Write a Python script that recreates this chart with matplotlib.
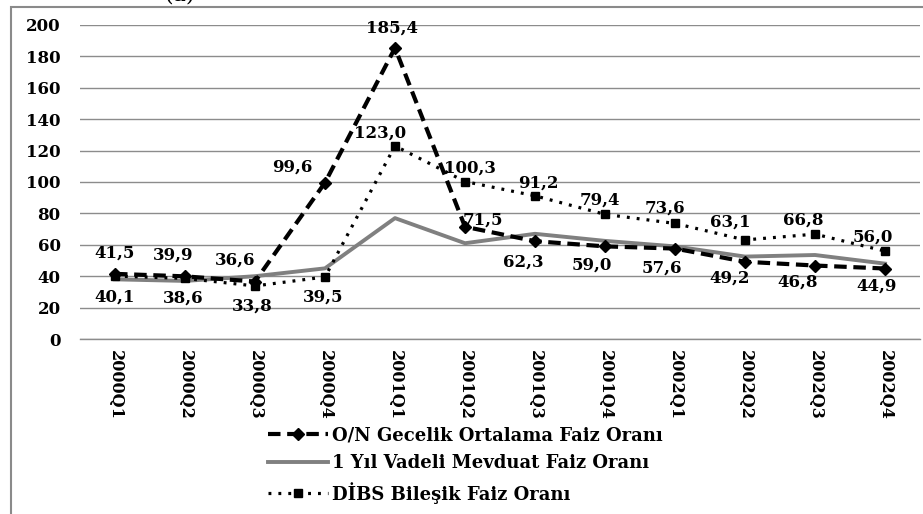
import matplotlib
matplotlib.use('Agg')
import matplotlib.pyplot as plt
from matplotlib.patches import Rectangle

# quarterly rates (%)
quarters = ['2000Q1', '2000Q2', '2000Q3', '2000Q4', '2001Q1', '2001Q2',
            '2001Q3', '2001Q4', '2002Q1', '2002Q2', '2002Q3', '2002Q4']
on_rate = [41.5, 39.9, 36.6, 99.6, 185.4, 71.5, 62.3, 59.0, 57.6, 49.2, 46.8, 44.9]
deposit_rate = [38.0, 37.0, 40.0, 45.0, 77.0, 61.0, 67.0, 62.5, 59.0, 52.5, 53.5, 48.0]
dibs_rate = [40.1, 38.6, 33.8, 39.5, 123.0, 100.3, 91.2, 79.4, 73.6, 63.1, 66.8, 56.0]

labels = ['O/N Gecelik Ortalama Faiz Oranı',
          '1 Yıl Vadeli Mevduat Faiz Oranı',
          'DİBS Bileşik Faiz Oranı']

# label offsets in pixels (dx, dy)
on_offsets = [(0, 21), (-12, 21), (-20, 21), (-33, 16), (-3, 20), (18, 7),
              (-12, -21), (-13, -19), (-13, -20), (-15, -16), (-17, -17), (-8, -18)]
dibs_offsets = [(0, -21), (-2, -20), (-3, -20), (-2, -20), (-15, 13), (5, 13),
                (3, 13), (-5, 14), (-10, 15), (-15, 18), (-12, 14), (-12, 14)]

plt.rcParams['font.family'] = ['DejaVu Serif']
plt.rcParams['font.weight'] = 'bold'

W, H = 923, 514
fig = plt.figure(figsize=(W / 100, H / 100), dpi=100)
ax = fig.add_axes([80 / W, 1 - 339 / H, 840 / W, 314 / H])

x = list(range(len(quarters)))
ax.plot(x, on_rate, color='black', lw=3, dashes=(3, 1.6), marker='D',
        markersize=6, label=labels[0], zorder=4)
ax.plot(x, deposit_rate, color='#808080', lw=2.8, label=labels[1], zorder=3)
ax.plot(x, dibs_rate, color='black', lw=2.3, dashes=(0.9, 2.2), marker='s',
        markersize=5.5, label=labels[2], zorder=4)

for xi, v, off in zip(x, on_rate, on_offsets):
    ax.annotate(f'{v:.1f}'.replace('.', ','), (xi, v), xytext=off,
                textcoords='offset pixels', ha='center', va='center',
                fontsize=12, fontweight='bold')
for xi, v, off in zip(x, dibs_rate, dibs_offsets):
    ax.annotate(f'{v:.1f}'.replace('.', ','), (xi, v), xytext=off,
                textcoords='offset pixels', ha='center', va='center',
                fontsize=12, fontweight='bold')

ax.set_xlim(-0.5, len(quarters) - 0.5)
ax.set_ylim(0, 200)
ax.set_yticks(range(0, 201, 20))
ax.set_xticks(x)
ax.set_xticklabels(quarters, rotation=270, fontsize=11.5, fontweight='bold')
ax.tick_params(axis='y', length=0, pad=14, labelsize=12)
ax.tick_params(axis='x', length=0, pad=8)
ax.grid(axis='y', color='#8c8c8c', lw=1)
ax.axhline(0, color='#8c8c8c', lw=1, clip_on=False, zorder=0.5)
ax.set_axisbelow(True)
for s in ax.spines.values():
    s.set_visible(False)

fig.legend(loc='upper left', bbox_to_anchor=(268 / W, 1 - 426 / H),
           frameon=False, fontsize=13, handlelength=3.3, handletextpad=0.25,
           labelspacing=0.55, numpoints=1, borderaxespad=0, borderpad=0)

# outer chart border
fig.patches.append(Rectangle((11 / W, -0.1), 1.2, 1.1 - 7 / H,
                             transform=fig.transFigure, fill=False,
                             edgecolor='#8a8a8a', lw=1.5))
fig.text(180 / W, 1 - 1 / H, '(a)', ha='center', va='baseline',
         fontsize=16, fontweight='normal')

fig.savefig('out.png', dpi=100)
